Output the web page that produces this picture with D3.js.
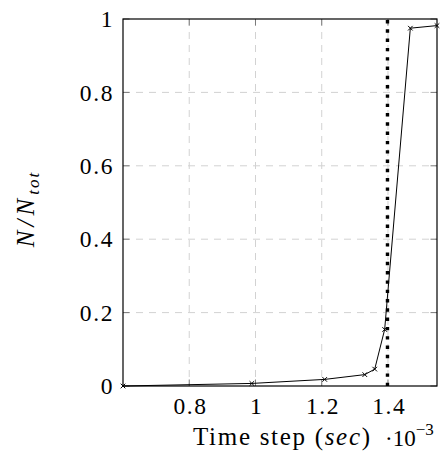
<!DOCTYPE html>
<html>
<head>
<meta charset="utf-8">
<script src="https://cdn.jsdelivr.net/npm/d3@7"></script>
<style>
  html, body { margin: 0; padding: 0; background: #fff; }
  svg { display: block; }
</style>
</head>
<body>
<svg id="chart" width="440" height="466"></svg>
<script>
// Data (time step in units of 1e-3 sec, fraction N/Ntot)
const timeSteps = [0.60, 0.989, 1.209, 1.330, 1.360, 1.390, 1.4675, 1.548];
const fractions = [0.0, 0.007, 0.018, 0.031, 0.046, 0.154, 0.975, 0.982];
const thresholdX = [1.4];
const xTicks = [0.8, 1, 1.2, 1.4];
const yTicks = [0, 0.2, 0.4, 0.6, 0.8, 1];

const FONT = "'Liberation Serif', 'Times New Roman', Times, 'DejaVu Serif', serif";

const svg = d3.select("#chart");
const pLeft = 123, pRight = 437, pTop = 19, pBottom = 386;

const x = d3.scaleLinear().domain([0.6, 1.548]).range([pLeft, pRight]);
const y = d3.scaleLinear().domain([0, 1]).range([pBottom, pTop]);

// grid
const grid = svg.append("g");
grid.selectAll(".gx").data(xTicks).enter().append("line")
  .attr("x1", d => x(d)).attr("x2", d => x(d))
  .attr("y1", pTop).attr("y2", pBottom)
  .attr("stroke", "#d2d2d2").attr("stroke-width", 1).attr("stroke-dasharray", "7,6");
grid.selectAll(".gy").data(yTicks.filter(d => d > 0 && d < 1)).enter().append("line")
  .attr("x1", pLeft).attr("x2", pRight)
  .attr("y1", d => y(d)).attr("y2", d => y(d))
  .attr("stroke", "#d2d2d2").attr("stroke-width", 1).attr("stroke-dasharray", "7,6");

// inner tick marks on all sides
const tk = svg.append("g").attr("stroke", "#7a7a7a").attr("stroke-width", 1);
xTicks.forEach(d => {
  tk.append("line").attr("x1", x(d)).attr("x2", x(d)).attr("y1", pBottom).attr("y2", pBottom - 6.5);
  tk.append("line").attr("x1", x(d)).attr("x2", x(d)).attr("y1", pTop).attr("y2", pTop + 6.5);
});
yTicks.forEach(d => {
  tk.append("line").attr("x1", pLeft).attr("x2", pLeft + 6.5).attr("y1", y(d)).attr("y2", y(d));
  tk.append("line").attr("x1", pRight).attr("x2", pRight - 6.5).attr("y1", y(d)).attr("y2", y(d));
});

// axes with labels (no domain lines, no ticks)
const xAxis = d3.axisBottom(x).tickValues(xTicks).tickSize(0)
  .tickFormat(d => d3.format("")(d));
const gx = svg.append("g").attr("transform", `translate(0,${pBottom})`).call(xAxis)
  .attr("font-family", FONT).attr("font-size", 23.5);
gx.select(".domain").remove();
gx.selectAll("text")
  .attr("font-family", FONT).attr("font-size", 23.5).attr("fill", "#000")
  .attr("letter-spacing", 1.6)
  .attr("y", 28).attr("dy", null).attr("dx", 0.8);

const yAxis = d3.axisLeft(y).tickValues(yTicks).tickSize(0)
  .tickFormat(d => d3.format("")(d));
const gy = svg.append("g").attr("transform", `translate(${pLeft},0)`).call(yAxis)
  .attr("font-family", FONT).attr("font-size", 23.5);
gy.select(".domain").remove();
gy.selectAll("text")
  .attr("font-family", FONT).attr("font-size", 23.5).attr("fill", "#000")
  .attr("letter-spacing", 1.6)
  .attr("x", -9).attr("dy", "0.33em");

// threshold dotted line
svg.selectAll(".thr").data(thresholdX).enter().append("line")
  .attr("x1", d => x(d) - 0.5).attr("x2", d => x(d) - 0.5)
  .attr("y1", pTop + 1).attr("y2", pBottom)
  .attr("stroke", "#000").attr("stroke-width", 3.4).attr("stroke-dasharray", "3.4,5.9");

// data line
const pts = timeSteps.map((t, i) => [t, fractions[i]]);
svg.append("path").datum(pts)
  .attr("fill", "none").attr("stroke", "#000").attr("stroke-width", 1)
  .attr("d", d3.line().x(d => x(d[0])).y(d => y(d[1])));

// x markers
const m = 2.3;
svg.selectAll(".mk").data(pts).enter().append("path")
  .attr("d", d => {
    const cx = x(d[0]), cy = y(d[1]);
    return `M${cx - m},${cy - m}L${cx + m},${cy + m}M${cx - m},${cy + m}L${cx + m},${cy - m}`;
  })
  .attr("stroke", "#000").attr("stroke-width", 1);

// frame
svg.append("rect").attr("x", pLeft).attr("y", pTop).attr("width", pRight - pLeft).attr("height", pBottom - pTop)
  .attr("fill", "none").attr("stroke", "#000").attr("stroke-width", 1.2);

// x label
const xl = svg.append("text").attr("x", 193).attr("y", 445)
  .attr("font-family", FONT).attr("font-size", 25).attr("letter-spacing", 1.7);
xl.append("tspan").text("Time step (");
xl.append("tspan").attr("font-style", "italic").text("sec");
xl.append("tspan").text(")");
const ex = svg.append("text").attr("x", 385).attr("y", 446)
  .attr("font-family", FONT).attr("font-size", 23);
ex.append("tspan").text("·10");
ex.append("tspan").attr("dy", -11).attr("font-size", 17).text("−3");

// y label
const yl = svg.append("text").attr("transform", "translate(34,209) rotate(-90)")
  .attr("text-anchor", "middle").attr("font-family", FONT).attr("font-size", 25)
  .attr("font-style", "italic").attr("letter-spacing", 4);
yl.append("tspan").text("N/N");
yl.append("tspan").attr("dy", 5).attr("font-size", 17).attr("letter-spacing", 2).text("tot");
</script>
</body>
</html>
